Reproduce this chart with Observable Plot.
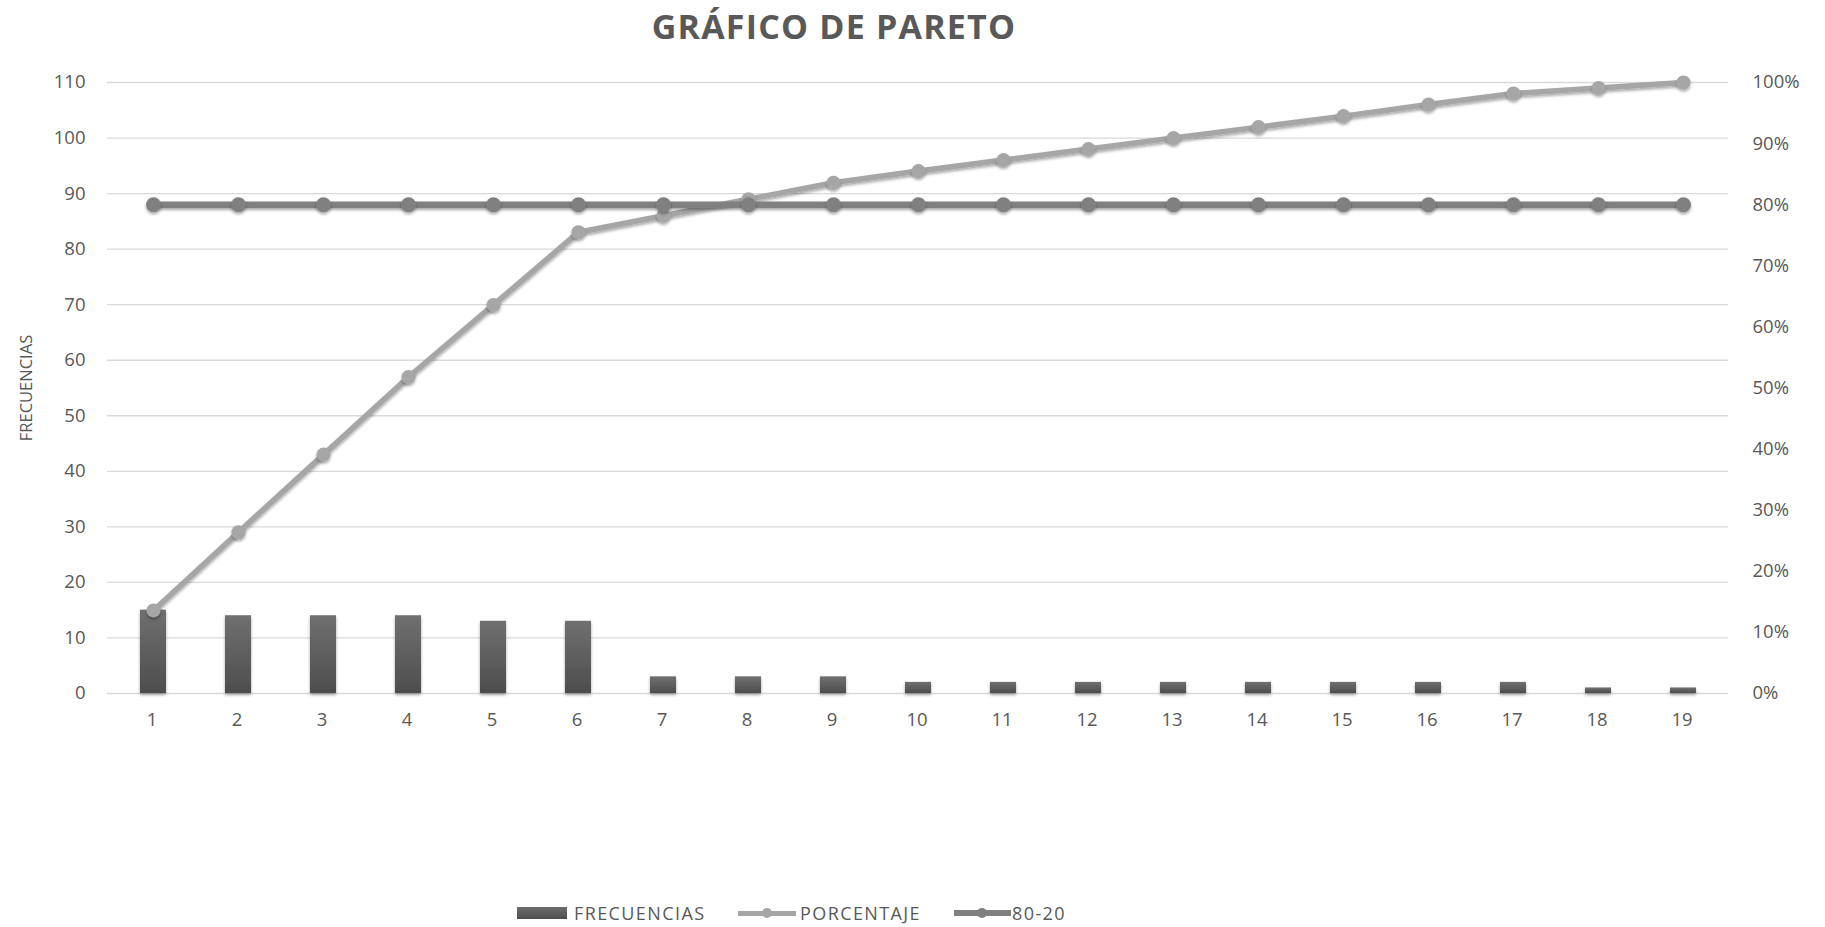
<!DOCTYPE html>
<html>
<head>
<meta charset="utf-8">
<script src="https://cdn.jsdelivr.net/npm/d3@7"></script>
<script src="https://cdn.jsdelivr.net/npm/@observablehq/plot@0.6"></script>
<style>
  body { margin: 0; background: #fff; font-family: "Open Sans", sans-serif; }
  #title { position: absolute; left: 0; top: 0; width: 1668px; height: 52px; line-height: 52px;
           text-align: center; font-weight: 700; font-size: 34px; color: #595959; letter-spacing: 1.2px; }
  #chart { position: absolute; left: 0; top: 50px; }
  .lg { position: absolute; }
  .lt { position: absolute; top: 902px; line-height: 22px; font-size: 18px; letter-spacing: 1.4px; color: #595959; white-space: nowrap; }
</style>
</head>
<body>
<div id="title">GRÁFICO DE PARETO</div>
<div id="chart"></div>
<div id="legend">
  <div class="lg" style="left:517px;top:907px;width:50px;height:12px;background:linear-gradient(#6e6e6e,#4d4d4d);"></div>
  <div class="lt" style="left:574px;">FRECUENCIAS</div>
  <div class="lg" style="left:738px;top:910.5px;width:58px;height:5px;background:#a6a6a6;"></div>
  <div class="lg" style="left:762px;top:908px;width:10px;height:10px;border-radius:50%;background:#a6a6a6;"></div>
  <div class="lt" style="left:800px;">PORCENTAJE</div>
  <div class="lg" style="left:954px;top:910px;width:57px;height:6px;background:#808080;"></div>
  <div class="lg" style="left:977px;top:908px;width:10px;height:10px;border-radius:50%;background:#808080;"></div>
  <div class="lt" style="left:1012px;">80-20</div>
</div>
<script>
const categorias = [1, 2, 3, 4, 5, 6, 7, 8, 9, 10, 11, 12, 13, 14, 15, 16, 17, 18, 19];
const frecuencias = [15, 14, 14, 14, 13, 13, 3, 3, 3, 2, 2, 2, 2, 2, 2, 2, 2, 1, 1];
const porcentaje = [13.6, 26.4, 39.1, 51.8, 63.6, 75.5, 78.2, 80.9, 83.6, 85.5, 87.3, 89.1, 90.9, 92.7, 94.5, 96.4, 98.2, 99.1, 100];
const linea8020 = [80, 80, 80, 80, 80, 80, 80, 80, 80, 80, 80, 80, 80, 80, 80, 80, 80, 80, 80];
const ticksIzq = [0, 10, 20, 30, 40, 50, 60, 70, 80, 90, 100, 110];
const ticksDer = [0, 10, 20, 30, 40, 50, 60, 70, 80, 90, 100];
const maxIzq = 110; // 100% on the right axis aligns with 110 on the left axis

const rows = categorias.map((c, i) => ({ cat: c, f: frecuencias[i], p: porcentaje[i], r: linea8020[i] }));
const pct = v => v * maxIzq / 100;

const chart = Plot.plot({
  width: 1825,
  height: 700,
  marginLeft: 107,
  marginRight: 97,
  marginTop: 32,
  marginBottom: 57,
  style: { fontFamily: "'Open Sans', sans-serif", fontSize: "18.5px", color: "#595959", background: "#fff" },
  x: { type: "band", domain: categorias, paddingInner: 0.7, paddingOuter: 0.35 },
  y: { domain: [0, maxIzq] },
  marks: [
    Plot.gridY(ticksIzq, { stroke: "#d9d9d9", strokeOpacity: 1, strokeWidth: 1.3 }),
    Plot.barY(rows, { x: "cat", y: "f", fill: "url(#gradBar)" }),
    Plot.line(rows, { x: "cat", y: d => pct(d.p), stroke: "#a6a6a6", strokeWidth: 5.5, curve: "linear" }),
    Plot.dot(rows, { x: "cat", y: d => pct(d.p), r: 7, fill: "#a6a6a6" }),
    Plot.line(rows, { x: "cat", y: d => pct(d.r), stroke: "#808080", strokeWidth: 6.5 }),
    Plot.dot(rows, { x: "cat", y: d => pct(d.r), r: 7.5, fill: "#808080" }),
    Plot.axisY(ticksIzq, { anchor: "left", tickSize: 0, tickPadding: 22, label: null }),
    Plot.axisY(ticksDer.map(pct), { anchor: "right", tickSize: 0, tickPadding: 24, label: null,
      tickFormat: d => Math.round(d * 100 / maxIzq) + "%" }),
    Plot.axisX({ tickSize: 0, tickPadding: 19, label: null, dx: -1.5 }),
    Plot.text(["FRECUENCIAS"], { frameAnchor: "left", textAnchor: "middle", lineAnchor: "middle", dx: -81, rotate: -90, fontSize: 16.5,
      fontFamily: "'Liberation Sans Narrow', 'Open Sans', sans-serif", fill: "#595959" })
  ]
});

const svg = d3.select(chart);
svg.insert("defs", ":first-child").html(`
  <linearGradient id="gradBar" x1="0" y1="0" x2="0" y2="1">
    <stop offset="0" stop-color="#707070"/>
    <stop offset="1" stop-color="#4d4d4d"/>
  </linearGradient>
  <filter id="sombra" filterUnits="userSpaceOnUse" x="0" y="0" width="1825" height="700">
    <feDropShadow dx="0" dy="2" stdDeviation="1.6" flood-color="#000" flood-opacity="0.35"/>
  </filter>`);
svg.selectAll('g[aria-label="line"], g[aria-label="dot"], g[aria-label="bar"]').attr("filter", "url(#sombra)");

document.getElementById("chart").appendChild(chart);
</script>
</body>
</html>
